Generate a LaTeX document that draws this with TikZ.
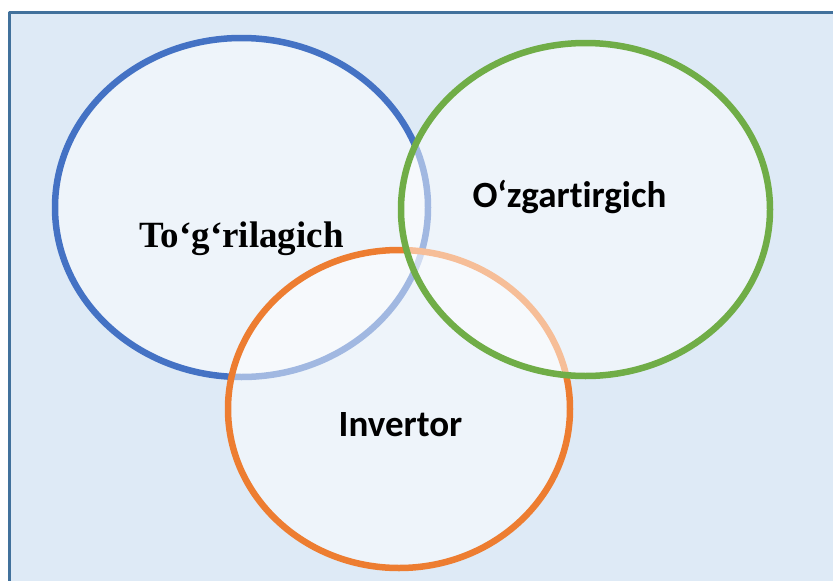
\documentclass[tikz,border=0pt]{standalone}
\usepackage{fontspec}
\newfontfamily\timesfont{Liberation Serif}
\newfontfamily\calibrifont[Ligatures=NoCommon]{Carlito}
\definecolor{bgblue}{HTML}{DEEAF6}
\definecolor{frameblue}{HTML}{41719C}
\definecolor{ringblue}{HTML}{4472C4}
\definecolor{ringgreen}{HTML}{70AD47}
\definecolor{ringorange}{HTML}{ED7D31}
\tikzset{ring/.style={line width=6.5pt,draw=#1,fill=white,fill opacity=0.5,draw opacity=1},
	lbl/.style={anchor=base,inner sep=0pt,font=\bfseries\fontsize{37}{40}\selectfont}}
\begin{document}
\begin{tikzpicture}[x=1pt,y=-1pt,line join=round,line cap=round]
	\useasboundingbox (0,0) rectangle (833,581);
	\def\bx{186.5} \def\by{169.5} % ban truc xanh duong
	\def\gx{184.5} \def\gy{166.5} % ban truc xanh la
	\def\ox{171} \def\oy{159} % ban truc cam
	\path 
	(241.5,207.5) coordinate (B)
	(585.5,209.5) coordinate (G)
	(399,409) coordinate (O);
	% nen
	\fill[bgblue] (9,12) rectangle (845,595);
	\draw[frameblue,line width=3pt,line cap=butt] (9,595)--(9,12)--(845,12);
	% ve cac hinh elip
	\draw[ring=ringblue] (B) ellipse [x radius=\bx, y radius=\by];
	\draw[ring=ringorange] (O) ellipse [x radius=\ox, y radius=\oy];
	\draw[ring=ringgreen] (G) ellipse [x radius=\gx, y radius=\gy];
	% chu
	\node[lbl,font=\timesfont\bfseries\fontsize{37}{40}\selectfont] (tog) at (241.5,247) {To‘g‘rilagich};
	\node[lbl,font=\calibrifont\bfseries\fontsize{37}{40}\selectfont] (ozg) at (569.5,207) {O‘zgartirgich};
	\node[lbl,font=\calibrifont\bfseries\fontsize{37}{40}\selectfont] (inv) at (400.5,436) {Invertor};
\end{tikzpicture}
\end{document}
